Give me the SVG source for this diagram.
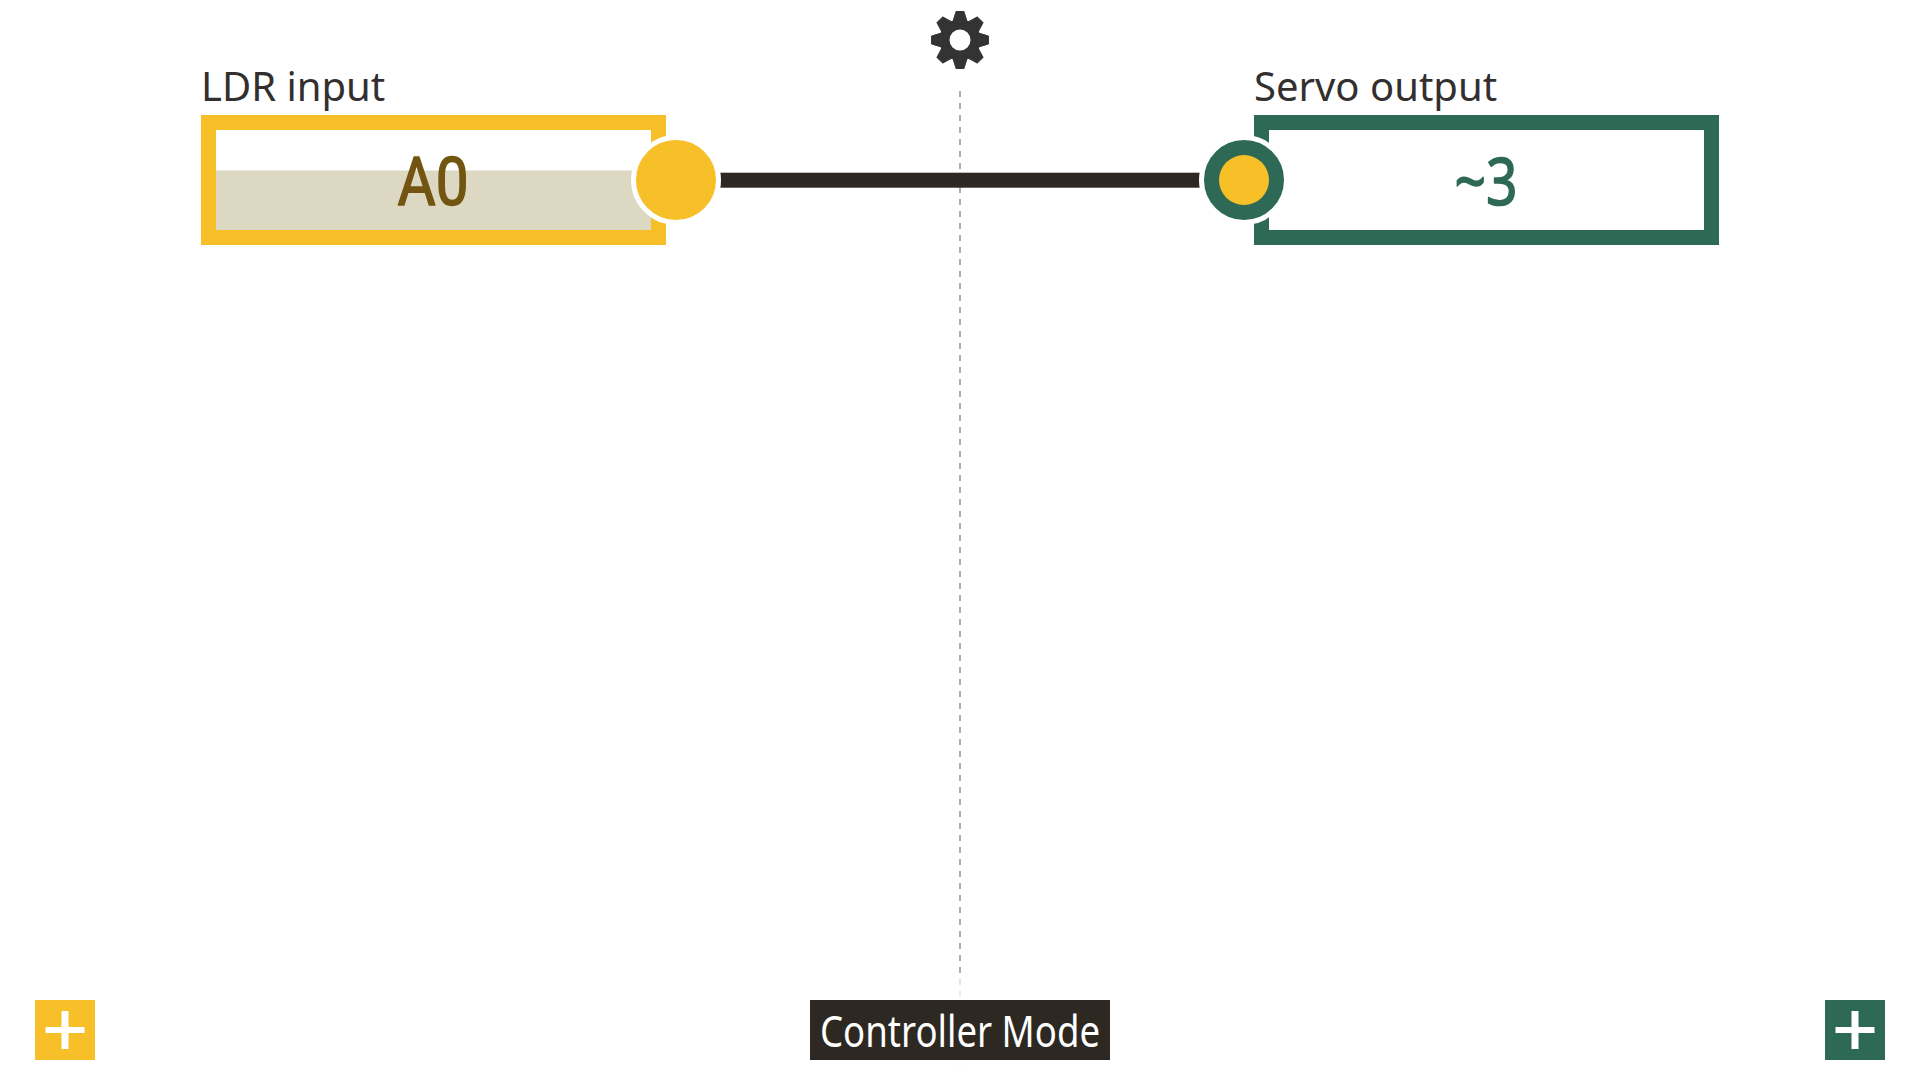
<svg xmlns="http://www.w3.org/2000/svg" width="1920" height="1080" viewBox="0 0 1920 1080">
<style>
.lbl{font-family:"Noto Sans","Open Sans",sans-serif;font-size:40px;fill:#332f2f}
.val{font-family:Roboto,"Noto Sans",sans-serif;font-size:66px;text-anchor:middle;stroke-width:1.500;stroke-linejoin:round}
.y{fill:#f7c028}.g{fill:#2e6955}
.ring{stroke:#fff;stroke-width:5}
.dash{fill:#b9aa98}
</style>
<rect width="1920" height="1080" fill="#fff"/>
<g id="axis">
<line x1="960" y1="91" x2="960" y2="973" stroke="#b9aa98" stroke-width="2" stroke-dasharray="6 6"/>
<rect class="dash" x="959" y="979" width="2" height="6" opacity=".35"/>
<rect class="dash" x="959" y="991" width="2" height="6" opacity=".2"/>
<rect class="dash" x="959" y="1063" width="2" height="6" opacity=".05"/>
</g>
<g id="connectors"><rect x="720" y="172.700" width="480" height="15" fill="#2d2822"/></g>
<g id="gear"><circle cx="960" cy="40" r="15.500" fill="none" stroke="#333" stroke-width="10"/>
<g fill="#333" stroke="#333" stroke-width="1" stroke-linejoin="round"><path id="t" d="M956 11.500h8l3.500 11.500h-15z"/><use href="#t" transform="rotate(45 960 40)"/><use href="#t" transform="rotate(90 960 40)"/><use href="#t" transform="rotate(135 960 40)"/><use href="#t" transform="rotate(180 960 40)"/><use href="#t" transform="rotate(225 960 40)"/><use href="#t" transform="rotate(270 960 40)"/><use href="#t" transform="rotate(315 960 40)"/></g></g>
<g id="input">
<text class="lbl" x="201" y="100.500">LDR input</text>
<rect x="208.500" y="122.500" width="450" height="115" fill="#fff" stroke="#f7c028" stroke-width="15"/>
<rect x="216" y="170.500" width="435" height="59.500" fill="#ddd8c1"/>
<text class="val" x="433" y="204.500" fill="#735512" stroke="#735512" textLength="71" lengthAdjust="spacingAndGlyphs">A0</text>
<circle class="y ring" cx="676" cy="180" r="42.500"/>
</g>
<g id="output">
<text class="lbl" x="1254" y="100.500">Servo output</text>
<rect x="1261.500" y="122.500" width="450" height="115" fill="#fff" stroke="#2e6955" stroke-width="15"/>
<text class="val" x="1486" y="204.500" fill="#2e6955" stroke="#2e6955" style="font-family:'Noto Sans',sans-serif" textLength="63" lengthAdjust="spacingAndGlyphs">~3</text>
<circle class="g ring" cx="1244" cy="180" r="42.500"/>
<circle class="y" cx="1244" cy="180" r="25"/>
</g>
<g id="mode"><rect x="810" y="1000" width="300" height="60" fill="#2d2822"/>
<text x="960" y="1046.500" font-family="Noto Sans,sans-serif" font-size="43" fill="#fff" text-anchor="middle" textLength="280" lengthAdjust="spacingAndGlyphs">Controller Mode</text></g>
<g id="add-input"><rect x="35" y="1000" width="60" height="60" fill="#f7c028"/><path d="M45.500 1027h16v-16h7v16h16v6h-16v16h-7v-16h-16z" fill="#fff"/></g>
<g id="add-output"><rect x="1825" y="1000" width="60" height="60" fill="#2e6955"/><path d="M1835.500 1027h16v-16h7v16h16v6h-16v16h-7v-16h-16z" fill="#fff"/></g>
</svg>
